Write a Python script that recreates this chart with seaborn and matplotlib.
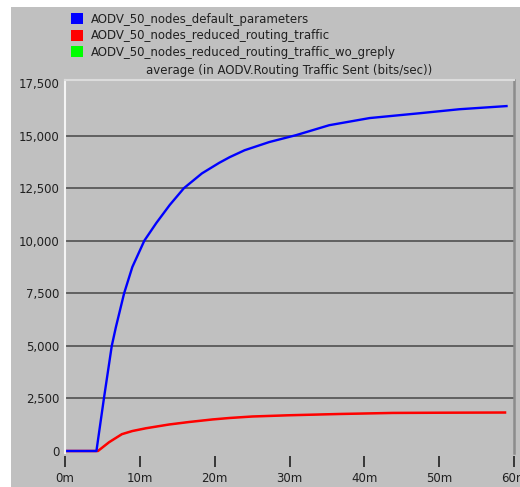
"""
plot.py - AODV routing traffic sent, OPNET style line chart.
"""

import matplotlib
matplotlib.use("Agg")
import matplotlib.pyplot as plt
from matplotlib.patches import Patch, Rectangle
import pandas as pd
import seaborn as sns

# series labels + colours
series_names = [
    "AODV_50_nodes_default_parameters",
    "AODV_50_nodes_reduced_routing_traffic",
    "AODV_50_nodes_reduced_routing_traffic_wo_greply",
]
series_colors = ["#0000ff", "#ff0000", "#00ff00"]
title_text = "average (in AODV.Routing Traffic Sent (bits/sec))"

# values (time in minutes, bits/sec)
default_t = [0, 4.2, 5.2, 6.25, 6.8, 7.9, 9.0, 10.6, 12.2, 14.0, 15.9, 18.3,
             20.6, 22.0, 24.0, 27.3, 30.9, 35.3, 40.7, 47.4, 52.7, 59.0]
default_v = [0, 0, 2500, 5000, 5890, 7500, 8750, 10000, 10840, 11700, 12500, 13200,
             13700, 13970, 14300, 14690, 15020, 15490, 15830, 16060, 16250, 16400]

reduced_t = [0, 4.4, 5.9, 7.6, 9.0, 10.8, 13.9, 16.6, 19.7, 22.0, 25.0, 30.0,
             36.7, 43.8, 50.0, 58.8]
reduced_v = [0, 0, 420, 800, 950, 1080, 1260, 1380, 1500, 1570, 1640, 1700,
             1760, 1810, 1820, 1830]

# the wo_greply run sits under the red one (only its legend entry shows)
greply_t = [0, 4.4, 5.9, 7.6, 9.0, 10.8, 13.9, 16.6, 19.7, 22.0, 25.0, 30.0,
            36.7, 43.8, 50.0, 58.8]
greply_v = [0, 0, 420, 800, 950, 1080, 1260, 1380, 1500, 1570, 1640, 1700,
            1760, 1810, 1820, 1830]

x_ticks = [0, 10, 20, 30, 40, 50, 60]
x_tick_labels = ["0m", "10m", "20m", "30m", "40m", "50m", "60m"]
y_ticks = [0, 2500, 5000, 7500, 10000, 12500, 15000, 17500]
y_tick_labels = ["0", "2,500", "5,000", "7,500", "10,000", "12,500", "15,000", "17,500"]

# long format table for seaborn (green first, blue last so it is on top)
df = pd.concat([
    pd.DataFrame({"t": greply_t, "v": greply_v, "run": series_names[2]}),
    pd.DataFrame({"t": reduced_t, "v": reduced_v, "run": series_names[1]}),
    pd.DataFrame({"t": default_t, "v": default_v, "run": series_names[0]}),
], ignore_index=True)

plt.rcParams["font.family"] = ["DejaVu Sans"]
BG = "#c0c0c0"
TXT = "#202020"

fig = plt.figure(figsize=(5.2, 4.87), dpi=100, facecolor="white")
# grey window area (screenshot is cropped with a white margin left/top)
fig.patches.append(Rectangle((11 / 520, 0), 1, 1 - 7 / 487, transform=fig.transFigure,
                             facecolor=BG, edgecolor="none", zorder=-10))

ax = fig.add_axes([65 / 520, 1 - 453 / 487, 449 / 520, 373 / 487])
ax.set_facecolor(BG)

palette = dict(zip(series_names, series_colors))
widths = {series_names[0]: 1.7, series_names[1]: 1.8, series_names[2]: 0.8}
for name in [series_names[2], series_names[1], series_names[0]]:
    sns.lineplot(data=df[df["run"] == name], x="t", y="v", color=palette[name],
                 linewidth=widths[name], ax=ax, legend=False, estimator=None, sort=False)

ax.set_xlim(0, 60)
ax.set_ylim(-95, 17640)
ax.set_xlabel("")
ax.set_ylabel("")

ax.set_xticks(x_ticks)
ax.set_xticklabels(x_tick_labels)
ax.set_yticks(y_ticks)
ax.set_yticklabels(y_tick_labels)
ax.tick_params(axis="y", length=0, pad=4, labelsize=8.5, labelcolor=TXT)
ax.tick_params(axis="x", length=8, width=1.2, color=TXT, direction="out", pad=4,
               labelsize=8.5, labelcolor=TXT)

# dark horizontal gridlines at the inner ticks
for yv in y_ticks[1:-1]:
    ax.axhline(yv, color="#505050", linewidth=1.2, zorder=0.5)

ax.spines["left"].set_color("#f4f4f4")
ax.spines["left"].set_linewidth(1.5)
ax.spines["top"].set_color("#dcdcdc")
ax.spines["top"].set_linewidth(1.5)
ax.spines["right"].set_color("#8c8c8c")
ax.spines["right"].set_linewidth(1.8)
ax.spines["bottom"].set_visible(False)
ax.spines["bottom"].set_position(("outward", 2))

ax.set_title(title_text, fontsize=8.5, color=TXT, pad=4)

handles = [Patch(facecolor=c, edgecolor="none", label=n)
           for n, c in zip(series_names, series_colors)]
fig.legend(handles=handles, loc="upper left", bbox_to_anchor=(66 / 520, 1 - 8 / 487),
           frameon=False, fontsize=8.5, handlelength=1.0, handleheight=1.0,
           handletextpad=0.7, labelspacing=0.3, borderaxespad=0, labelcolor=TXT)

fig.savefig("out.png", dpi=100, facecolor=fig.get_facecolor())
